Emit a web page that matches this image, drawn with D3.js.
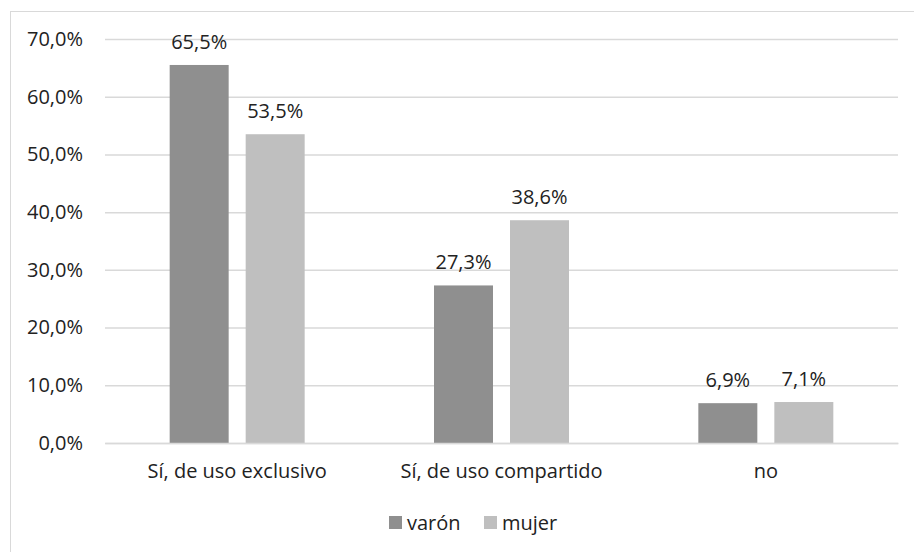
<!DOCTYPE html>
<html><head><meta charset="utf-8">
<script src="https://cdn.jsdelivr.net/npm/d3@7"></script>
<style>body{margin:0;background:#fff}svg{display:block}text{font-family:"Open Sans",sans-serif;fill:#222}</style>
</head><body><svg id="c" width="914" height="552"></svg>
<script>
const categories = ["Sí, de uso exclusivo", "Sí, de uso compartido", "no"];
const seriesNames = ["varón", "mujer"];
const varon = [65.5, 27.3, 6.9];
const mujer = [53.5, 38.6, 7.1];
const yTicks = [0, 10, 20, 30, 40, 50, 60, 70];
const colors = ["#8f8f8f", "#bfbfbf"];

const svg = d3.select("#c");
const fs = 20;
const L = 105, R = 898, T = 39, B = 443;
// outer frame (left and top edges visible)
svg.append("rect").attr("x", 10.5).attr("y", 11.5).attr("width", 1000).attr("height", 1000)
  .attr("fill", "none").attr("stroke", "#d9d9d9");

const x0 = d3.scaleBand().domain(categories).range([L, R]);
const y = d3.scaleLinear().domain([0, 70]).range([B, T]);
const fmt = v => d3.format(".1f")(v).replace(".", ",") + "%";

const yAxis = svg.append("g").attr("transform", `translate(${L},0)`)
  .call(d3.axisLeft(y).tickValues(yTicks).tickSize(-(R - L)).tickPadding(22).tickFormat(fmt));
yAxis.select(".domain").remove();
yAxis.selectAll(".tick line").attr("stroke", "#d9d9d9").attr("stroke-width", 1.5);
yAxis.selectAll(".tick text").attr("font-size", fs).attr("fill", "#222").attr("font-family", '"Open Sans",sans-serif');

const barW = 59, gap = 17;
const data = categories.map((c, i) => ({c, vals: [varon[i], mujer[i]]}));
const g = svg.append("g");
data.forEach(d => {
  const cx = x0(d.c) + x0.bandwidth() / 2;
  d.vals.forEach((v, j) => {
    const bx = j === 0 ? cx - gap / 2 - barW : cx + gap / 2;
    g.append("rect").attr("x", bx).attr("y", y(v)).attr("width", barW).attr("height", y(0) - y(v)).attr("fill", colors[j]);
    g.append("text").attr("x", bx + barW / 2).attr("y", y(v) - 16).attr("text-anchor", "middle")
      .attr("font-size", fs).text(fmt(v));
  });
});

const xAxis = svg.append("g").attr("transform", `translate(0,${B})`)
  .call(d3.axisBottom(x0).tickSize(0).tickPadding(21));
xAxis.select(".domain").attr("stroke", "#d9d9d9").attr("stroke-width", 1.5);
xAxis.selectAll(".tick text").attr("font-size", fs).attr("fill", "#222").attr("font-family", '"Open Sans",sans-serif');

const leg = svg.append("g");
const legX = [389, 484];
seriesNames.forEach((s, j) => {
  leg.append("rect").attr("x", legX[j]).attr("y", 516).attr("width", 13).attr("height", 13).attr("fill", colors[j]);
  leg.append("text").attr("x", legX[j] + 18).attr("y", 530).attr("font-size", fs).text(s);
});
</script></body></html>
